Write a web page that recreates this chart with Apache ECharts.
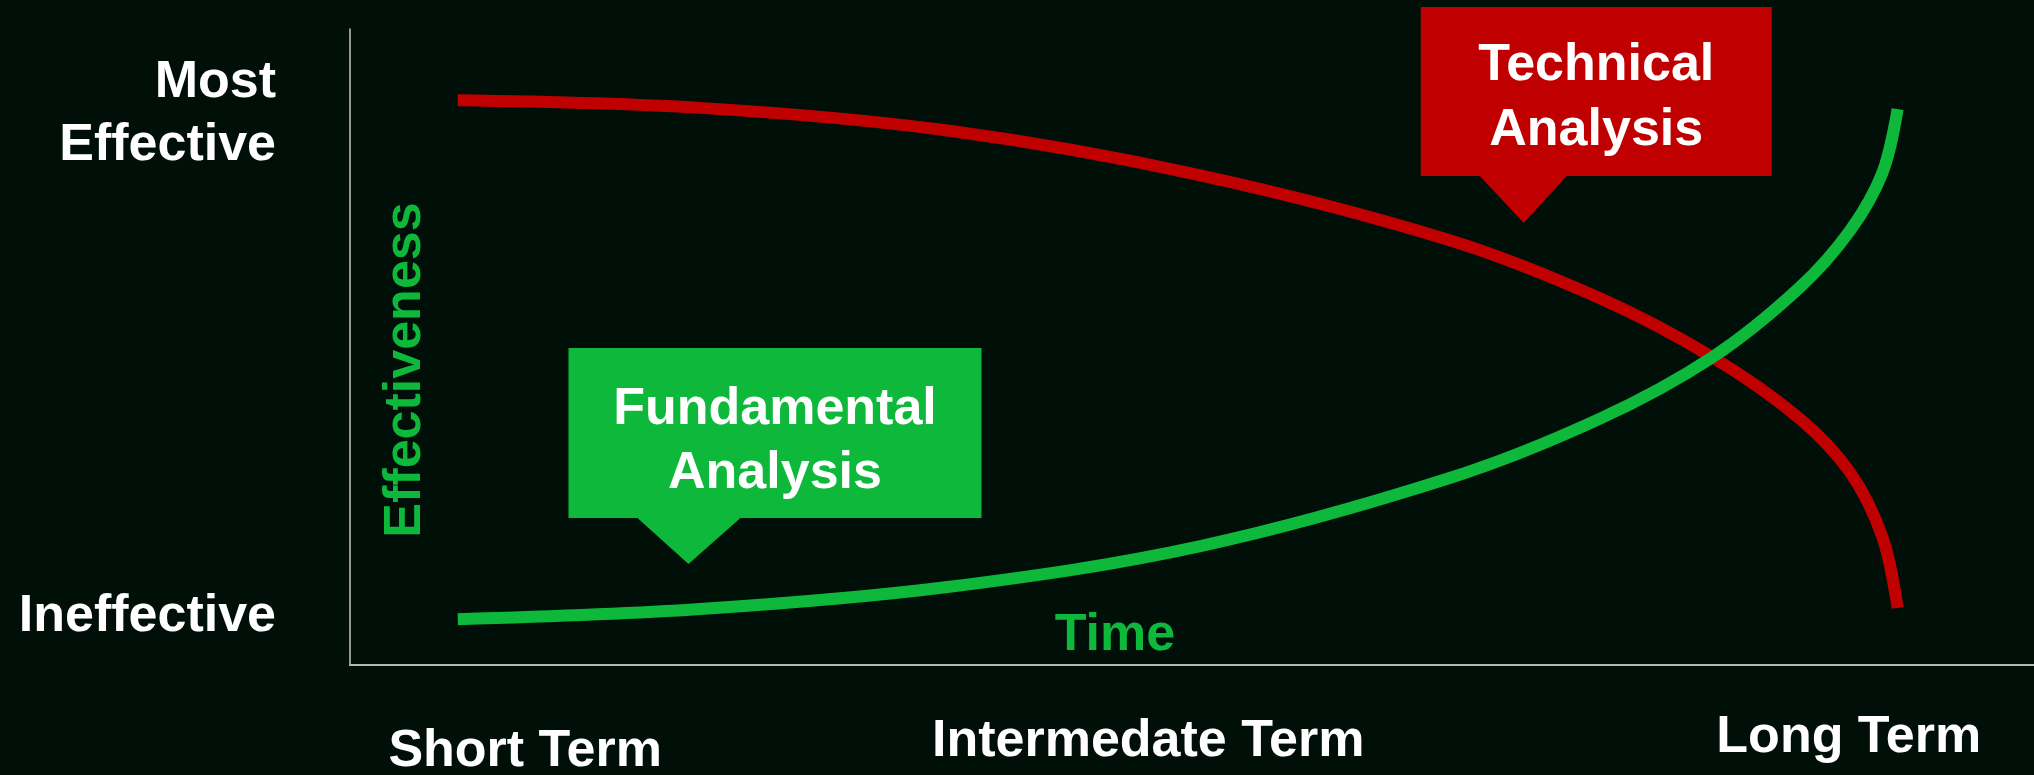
<!DOCTYPE html>
<html>
<head>
<meta charset="utf-8">
<script src="https://cdn.jsdelivr.net/npm/echarts@6/dist/echarts.min.js"></script>
<style>
  html, body { margin: 0; padding: 0; background: #000f08; }
  #chart { width: 2034px; height: 775px; }
</style>
</head>
<body>
<div id="chart"></div>
<script>
// time position along the horizontal axis (0 = origin, 100 = right edge)
const timePoints = [6.4, 20.8, 35.6, 50.5, 65.3, 74.2, 80.9, 86.1, 89.1, 91.0, 91.9];
// effectiveness (0 = ineffective, 100 = top of axis)
const technicalValues = [88.8, 87.6, 84.0, 77.0, 66.8, 57.7, 48.4, 38.7, 30.2, 20.1, 9.0];
const fundamentalValues = [7.2, 8.8, 12.3, 18.7, 29.4, 38.7, 48.4, 59.4, 68.4, 77.4, 87.4];

// axis tick labels
const termTicks = [10.4, 47.4, 89.0];
const termLabels = ['Short Term', 'Intermedate Term', 'Long Term'];
const effTicks = [7.6, 86.6];
const effLabels = ['Ineffective', 'Most\nEffective'];

// callout anchors (tip of the pointer)
const fundamentalCallout = [20.1, 15.9];
const technicalCallout = [69.7, 69.5];

const RED = '#c00000';
const GREEN = '#0eb83a';
const FONT = "'Liberation Sans', Arial, sans-serif";

const chart = echarts.init(document.getElementById('chart'), null, { renderer: 'canvas' });

function pairs(xs, ys) {
    return xs.map((x, i) => [x, ys[i]]);
}

const option = {
    backgroundColor: '#000f08',
    animation: false,
    grid: { left: 350, right: 0, top: 29, bottom: 110, containLabel: false, outerBoundsMode: 'none' },
    xAxis: {
        type: 'value',
        min: 0,
        max: 100,
        name: 'Time',
        nameLocation: 'middle',
        nameGap: -55,
        nameMoveOverlap: false,
        nameTextStyle: {
            color: GREEN, fontSize: 52, fontWeight: 'bold', fontFamily: FONT,
            padding: [0, 154, 0, 0],
        },
        axisLine: { show: true, lineStyle: { color: '#b4b8b0', width: 2 } },
        axisTick: { show: false },
        splitLine: { show: false },
        axisLabel: {
            customValues: termTicks,
            margin: 47,
            formatter: function (v) {
                const i = termTicks.indexOf(v);
                const key = ['s', 'i', 'l'][i];
                return '{' + key + '|' + termLabels[i] + '}';
            },
            rich: {
                s: { color: '#fff', fontSize: 52, fontWeight: 'bold', fontFamily: FONT, padding: [14, 0, 0, 0] },
                i: { color: '#fff', fontSize: 52, fontWeight: 'bold', fontFamily: FONT, padding: [4, 0, 0, 0] },
                l: { color: '#fff', fontSize: 52, fontWeight: 'bold', fontFamily: FONT, padding: [0, 0, 0, 0] },
            },
        },
    },
    yAxis: {
        type: 'value',
        min: 0,
        max: 100,
        name: 'Effectiveness',
        nameLocation: 'middle',
        nameRotate: 90,
        nameGap: -82,
        nameMoveOverlap: false,
        nameTextStyle: {
            color: GREEN, fontSize: 52, fontWeight: 'bold', fontFamily: FONT,
            padding: [0, 46, 0, 0],
        },
        axisLine: { show: true, lineStyle: { color: '#c4c8c0', width: 1.5 } },
        axisTick: { show: false },
        splitLine: { show: false },
        axisLabel: {
            customValues: effTicks,
            margin: 74,
            color: '#fff',
            fontSize: 52,
            fontWeight: 'bold',
            fontFamily: FONT,
            lineHeight: 63,
            align: 'right',
            formatter: function (v) {
                return effLabels[effTicks.indexOf(v)];
            },
        },
    },
    series: [
        {
            name: 'Technical Analysis',
            type: 'line',
            data: pairs(timePoints, technicalValues),
            smooth: 0.35,
            showSymbol: false,
            silent: true,
            lineStyle: { color: RED, width: 12, cap: 'butt' },
            markPoint: {
                silent: true,
                symbol: 'path://M0,0 H351 V169 H146 L103,216 L59,169 H0 Z',
                symbolSize: [351, 216],
                symbolOffset: [72.5, -108],
                symbolKeepAspect: false,
                itemStyle: { color: RED },
                label: {
                    show: true,
                    position: 'inside',
                    offset: [0, -17],
                    formatter: 'Technical\nAnalysis',
                    color: '#fff',
                    fontSize: 52,
                    fontWeight: 'bold',
                    fontFamily: FONT,
                    lineHeight: 65,
                },
                data: [{ coord: technicalCallout }],
            },
        },
        {
            name: 'Fundamental Analysis',
            type: 'line',
            data: pairs(timePoints, fundamentalValues),
            smooth: 0.35,
            showSymbol: false,
            silent: true,
            lineStyle: { color: GREEN, width: 12, cap: 'butt' },
            markPoint: {
                silent: true,
                symbol: 'path://M0,0 H413 V170 H172 L120,216 L69,170 H0 Z',
                symbolSize: [413, 216],
                symbolOffset: [86.5, -108],
                symbolKeepAspect: false,
                itemStyle: { color: GREEN },
                label: {
                    show: true,
                    position: 'inside',
                    offset: [0, -14],
                    formatter: 'Fundamental\nAnalysis',
                    color: '#fff',
                    fontSize: 52,
                    fontWeight: 'bold',
                    fontFamily: FONT,
                    lineHeight: 64,
                },
                data: [{ coord: fundamentalCallout }],
            },
        },
    ],
};

chart.setOption(option);
</script>
</body>
</html>
